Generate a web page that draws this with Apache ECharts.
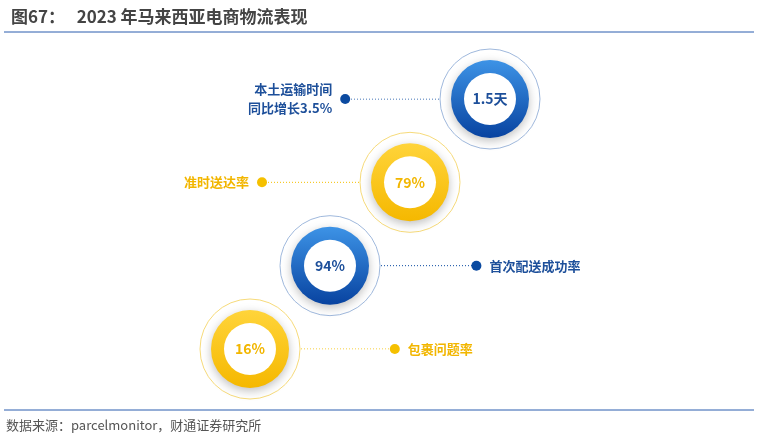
<!DOCTYPE html>
<html>
<head>
<meta charset="utf-8">
<script src="https://cdn.jsdelivr.net/npm/echarts@6/dist/echarts.min.js"></script>
<style>
body{margin:0;background:#fff;}
#chart{width:759px;height:442px;}
</style>
</head>
<body>
<div id="chart"></div>
<script>
// 指标（自下而上）
var values = ['16%', '94%', '79%', '1.5天'];
var labels = ['包裹问题率', '首次配送成功率', '准时送达率', '本土运输时间\n同比增长3.5%'];
var tones = ['yellow', 'blue', 'yellow', 'blue'];
// 引线终点（以序号为单位的横向偏移）
var leadX = [1.81, 2.83, 0.15, 1.19];

var palette = {
    blue: { top: '#3d93e6', bottom: '#0843a0', ring: '#9fb8dc', text: '#1d4f9a', dot: '#0b4aa0' },
    yellow: { top: '#ffd43a', bottom: '#f5b800', ring: '#f6da7a', text: '#f2b600', dot: '#f5c000' }
};

var ringData = [], diskData = [], innerData = [], dotData = [], lineSeries = [];
values.forEach(function (v, i) {
    var p = palette[tones[i]];
    ringData.push({ value: [i, i], itemStyle: { color: '#fff', borderColor: p.ring, borderWidth: 1, opacity: 1 } });
    diskData.push({ value: [i, i], itemStyle: { opacity: 1,
        color: new echarts.graphic.LinearGradient(0, 0, 0, 1, [{ offset: 0, color: p.top }, { offset: 1, color: p.bottom }]),
        shadowColor: 'rgba(0,0,0,0.25)', shadowBlur: 10, shadowOffsetY: 3 } });
    innerData.push({ value: [i, i], name: v, label: { color: p.text } });
    var left = leadX[i] < i;
    dotData.push({ value: [leadX[i], i], itemStyle: { color: p.dot, opacity: 1 },
        label: { show: true, formatter: labels[i], position: left ? 'left' : 'right', distance: 8,
            color: p.text, fontSize: 13, fontWeight: 'bold', lineHeight: 19,
            align: left ? 'right' : 'left' } });
    lineSeries.push({
        type: 'line', z: 1, symbol: 'none', silent: true,
        data: [[i, i], [leadX[i], i]],
        lineStyle: { color: p.dot, width: 1, type: [1, 2] }
    });
});

var chart = echarts.init(document.getElementById('chart'));
chart.setOption({
    animation: false,
    title: {
        text: '图67：   2023 年马来西亚电商物流表现', left: 6, top: 3,
        textStyle: { fontSize: 17, fontWeight: 'bold', color: '#444', fontFamily: 'Noto Sans CJK SC' }
    },
    graphic: [
        { type: 'line', shape: { x1: 4, y1: 32, x2: 754, y2: 32 }, style: { stroke: '#2a5cae', lineWidth: 1 } },
        { type: 'line', shape: { x1: 4, y1: 410, x2: 754, y2: 410 }, style: { stroke: '#2a5cae', lineWidth: 1 } },
        { type: 'text', left: 6, top: 419, style: { text: '数据来源：parcelmonitor，财通证券研究所', fontSize: 13, fill: '#555', fontFamily: 'Noto Sans CJK SC' } }
    ],
    grid: { left: 250, top: 99, width: 240, height: 250 },
    xAxis: { type: 'value', min: 0, max: 3, show: false },
    yAxis: { type: 'value', min: 0, max: 3, show: false },
    textStyle: { fontFamily: 'Noto Sans CJK SC' },
    series: lineSeries.concat([
        { type: 'scatter', z: 2, symbolSize: 100, data: ringData, silent: true },
        { type: 'scatter', z: 3, symbolSize: 78, data: diskData, silent: true },
        { type: 'scatter', z: 4, symbolSize: 52, data: innerData, silent: true,
          itemStyle: { color: '#fff', opacity: 1 },
          label: { show: true, position: 'inside', formatter: '{b}', fontSize: 14, fontWeight: 'bold' } },
        { type: 'scatter', z: 5, symbolSize: 10, data: dotData, silent: true }
    ])
});
</script>
</body>
</html>
